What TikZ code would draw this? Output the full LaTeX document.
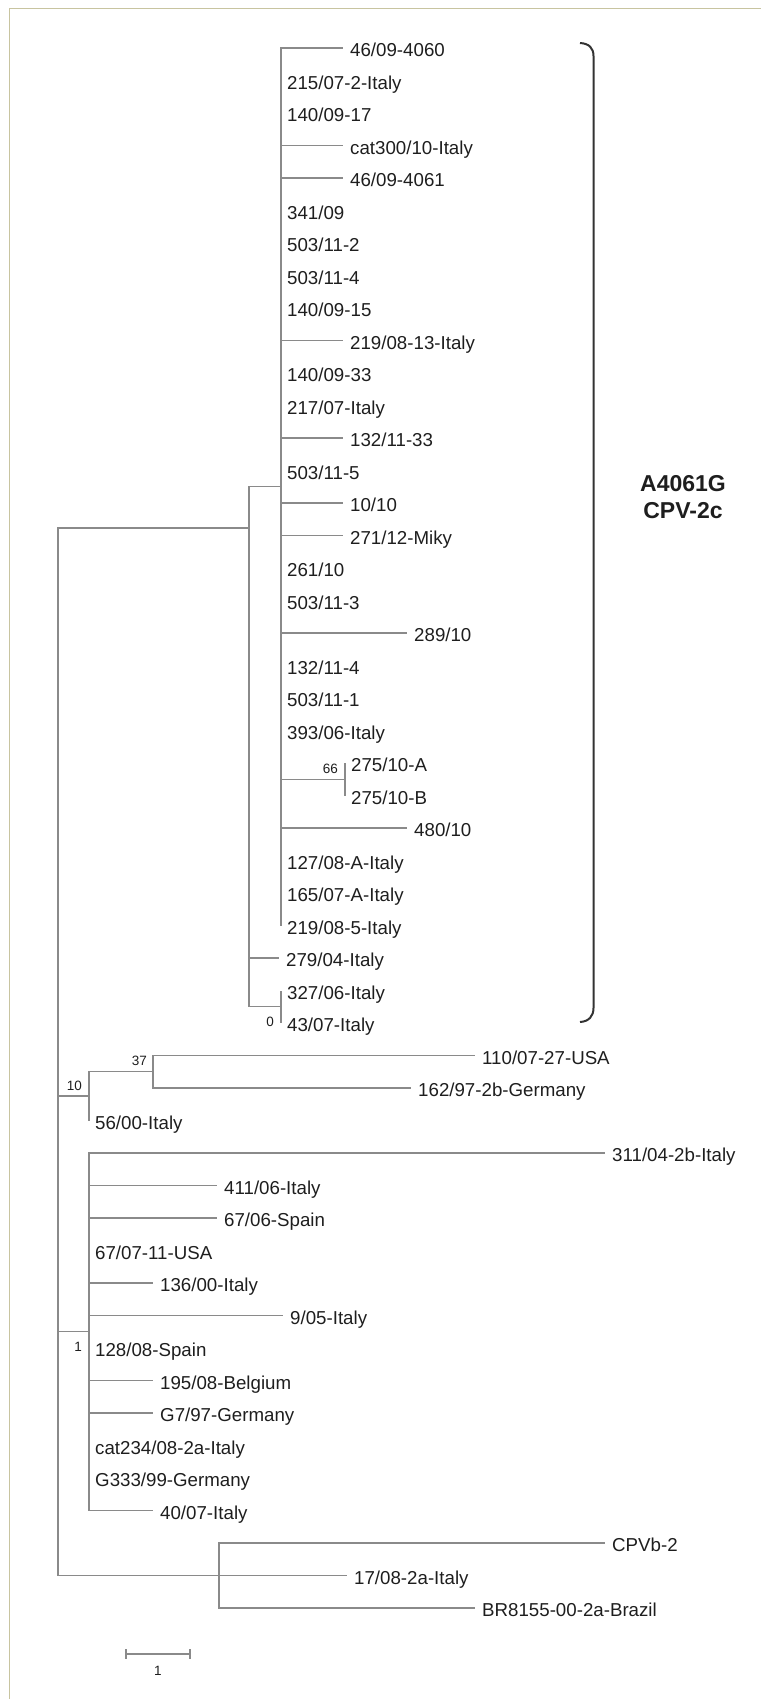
\documentclass[tikz,border=0pt]{standalone}
\usepackage{fontspec}
\setmainfont{Liberation Sans}
\usetikzlibrary{calc}
\definecolor{treegray}{HTML}{8A8A8A}
\definecolor{framecol}{HTML}{C8C4A0}
\definecolor{txt}{HTML}{1E1E1E}
\definecolor{brk}{HTML}{333333}
\begin{document}
\begin{tikzpicture}[x=1pt,y=-1pt,
  edge/.style={draw=treegray,line width=1.3pt},
  lab/.style={anchor=base west,inner sep=0pt,xshift=7pt,yshift=-8.7pt,text=txt,font=\fontsize{18.7}{20}\selectfont},
  lab0/.style={lab,xshift=-1pt},
  boot/.style={anchor=east,inner sep=0pt,text=txt,font=\fontsize{13.5}{15}\selectfont}]
\useasboundingbox (0,0) rectangle (761,1699);
% frame
\draw[framecol,line width=1.5pt] (9.3,1699) -- (9.3,8.3) -- (761,8.3);

% internal nodes
\coordinate (n248) at (249,528);
\coordinate (R) at (58,1051.75);
\coordinate (C) at (281,486.75);
\coordinate (n66) at (345,779.25);
\coordinate (n0) at (281,1006.75);
\coordinate (n10) at (89,1096.1);
\coordinate (n37) at (153,1071.75);
\coordinate (n1) at (89,1331.75);
\coordinate (nO) at (219,1575.5);

% tips
\coordinate (t1) at (343,48);
\coordinate (t2) at (281,80.5);
\coordinate (t3) at (281,113);
\coordinate (t4) at (343,145.5);
\coordinate (t5) at (343,178);
\coordinate (t6) at (281,210.5);
\coordinate (t7) at (281,243);
\coordinate (t8) at (281,275.5);
\coordinate (t9) at (281,308);
\coordinate (t10) at (343,340.5);
\coordinate (t11) at (281,373);
\coordinate (t12) at (281,405.5);
\coordinate (t13) at (343,438);
\coordinate (t14) at (281,470.5);
\coordinate (t15) at (343,503);
\coordinate (t16) at (343,535.5);
\coordinate (t17) at (281,568);
\coordinate (t18) at (281,600.5);
\coordinate (t19) at (407,633);
\coordinate (t20) at (281,665.5);
\coordinate (t21) at (281,698);
\coordinate (t22) at (281,730.5);
\coordinate (t23) at (345,763);
\coordinate (t24) at (345,795.5);
\coordinate (t25) at (407,828);
\coordinate (t26) at (281,860.5);
\coordinate (t27) at (281,893);
\coordinate (t28) at (281,925.5);
\coordinate (t29) at (279,958);
\coordinate (t30) at (281,990.5);
\coordinate (t31) at (281,1023);
\coordinate (t32) at (475,1055.5);
\coordinate (t33) at (411,1088);
\coordinate (t34) at (89,1120.5);
\coordinate (t35) at (605,1153);
\coordinate (t36) at (217,1185.5);
\coordinate (t37) at (217,1218);
\coordinate (t38) at (89,1250.5);
\coordinate (t39) at (153,1283);
\coordinate (t40) at (283,1315.5);
\coordinate (t41) at (89,1348);
\coordinate (t42) at (153,1380.5);
\coordinate (t43) at (153,1413);
\coordinate (t44) at (89,1445.5);
\coordinate (t45) at (89,1478);
\coordinate (t46) at (153,1510.5);
\coordinate (t47) at (605,1543);
\coordinate (t48) at (347,1575.5);
\coordinate (t49) at (475,1608);

% edges
\foreach \t in {n248,n10,n1,nO} \draw[edge] (R) |- (\t);
\foreach \t in {C,t29,n0} \draw[edge] (n248) |- (\t);
\foreach \t in {t1,t2,t3,t4,t5,t6,t7,t8,t9,t10,t11,t12,t13,t14,t15,t16,t17,t18,t19,t20,t21,t22,n66,t25,t26,t27,t28} \draw[edge] (C) |- (\t);
\foreach \t in {t23,t24} \draw[edge] (n66) |- (\t);
\foreach \t in {t30,t31} \draw[edge] (n0) |- (\t);
\foreach \t in {n37,t34} \draw[edge] (n10) |- (\t);
\foreach \t in {t32,t33} \draw[edge] (n37) |- (\t);
\foreach \t in {t35,t36,t37,t38,t39,t40,t41,t42,t43,t44,t45,t46} \draw[edge] (n1) |- (\t);
\foreach \t in {t47,t48,t49} \draw[edge] (nO) |- (\t);

% leaf labels
\node[lab] (l1) at (t1) {46/09-4060};
\node[lab0] (l2) at (t2) {215/07-2-Italy};
\node[lab0] (l3) at (t3) {140/09-17};
\node[lab] (l4) at (t4) {cat300/10-Italy};
\node[lab] (l5) at (t5) {46/09-4061};
\node[lab0] (l6) at (t6) {341/09};
\node[lab0] (l7) at (t7) {503/11-2};
\node[lab0] (l8) at (t8) {503/11-4};
\node[lab0] (l9) at (t9) {140/09-15};
\node[lab] (l10) at (t10) {219/08-13-Italy};
\node[lab0] (l11) at (t11) {140/09-33};
\node[lab0] (l12) at (t12) {217/07-Italy};
\node[lab] (l13) at (t13) {132/11-33};
\node[lab0] (l14) at (t14) {503/11-5};
\node[lab] (l15) at (t15) {10/10};
\node[lab] (l16) at (t16) {271/12-Miky};
\node[lab0] (l17) at (t17) {261/10};
\node[lab0] (l18) at (t18) {503/11-3};
\node[lab] (l19) at (t19) {289/10};
\node[lab0] (l20) at (t20) {132/11-4};
\node[lab0] (l21) at (t21) {503/11-1};
\node[lab0] (l22) at (t22) {393/06-Italy};
\node[lab0] (l23) at (t23) {275/10-A};
\node[lab0] (l24) at (t24) {275/10-B};
\node[lab] (l25) at (t25) {480/10};
\node[lab0] (l26) at (t26) {127/08-A-Italy};
\node[lab0] (l27) at (t27) {165/07-A-Italy};
\node[lab0] (l28) at (t28) {219/08-5-Italy};
\node[lab] (l29) at (t29) {279/04-Italy};
\node[lab0] (l30) at (t30) {327/06-Italy};
\node[lab0] (l31) at (t31) {43/07-Italy};
\node[lab] (l32) at (t32) {110/07-27-USA};
\node[lab] (l33) at (t33) {162/97-2b-Germany};
\node[lab0] (l34) at (t34) {56/00-Italy};
\node[lab] (l35) at (t35) {311/04-2b-Italy};
\node[lab] (l36) at (t36) {411/06-Italy};
\node[lab] (l37) at (t37) {67/06-Spain};
\node[lab0] (l38) at (t38) {67/07-11-USA};
\node[lab] (l39) at (t39) {136/00-Italy};
\node[lab] (l40) at (t40) {9/05-Italy};
\node[lab0] (l41) at (t41) {128/08-Spain};
\node[lab] (l42) at (t42) {195/08-Belgium};
\node[lab] (l43) at (t43) {G7/97-Germany};
\node[lab0] (l44) at (t44) {cat234/08-2a-Italy};
\node[lab0] (l45) at (t45) {G333/99-Germany};
\node[lab] (l46) at (t46) {40/07-Italy};
\node[lab] (l47) at (t47) {CPVb-2};
\node[lab] (l48) at (t48) {17/08-2a-Italy};
\node[lab] (l49) at (t49) {BR8155-00-2a-Brazil};

% bootstrap values
\node[boot] (b66) at ($(n66)+(-7,-10)$) {66};
\node[boot] (b0) at ($(n0)+(-7,15)$) {0};
\node[boot] (b37) at ($(n37)+(-6,-11)$) {37};
\node[boot] (b10) at ($(n10)+(-7,-10)$) {10};
\node[boot] (b1) at ($(n1)+(-7,15)$) {1};

% clade bracket and label
\coordinate (bt) at (580,43);
\coordinate (bb) at (580,1022);
\draw[brk,line width=2pt] (bt) .. controls (589,43.5) and (593.5,48) .. (593.5,56) -- (593.5,1008) .. controls (593.5,1016) and (589,1021.5) .. (bb);
\node[font=\bfseries\fontsize{23}{27}\selectfont,align=center,text=txt,inner sep=0pt] (clade) at (683,497.5) {A4061G\\CPV-2c};

% scale bar
\coordinate (sb1) at (126,1654);
\coordinate (sb2) at (190,1654);
\draw[edge] (sb1) -- (sb2);
\draw[edge] ($(sb1)+(0,-5)$) -- ($(sb1)+(0,5)$);
\draw[edge] ($(sb2)+(0,-5)$) -- ($(sb2)+(0,5)$);
\node[boot,anchor=center] (sbl) at (158,1671) {1};
\end{tikzpicture}
\end{document}
